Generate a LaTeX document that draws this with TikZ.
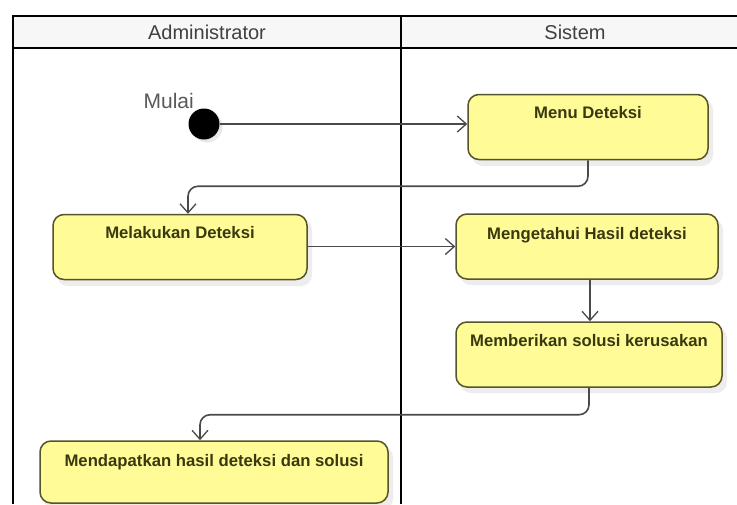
\documentclass[tikz,border=0pt]{standalone}
\usepackage{fontspec}
\setmainfont{Liberation Sans}
\usetikzlibrary{arrows.meta}

\definecolor{actfill}{HTML}{FFFC98}
\definecolor{actline}{HTML}{55532A}
\definecolor{acttext}{HTML}{3A380E}
\definecolor{connline}{HTML}{4A4A4A}
\definecolor{headfill}{HTML}{F7F7F7}

\tikzset{
  lane/.style={line width=2.8pt, black},
  lanetitle/.style={font=\fontsize{20}{22}\selectfont, text=black!75, anchor=base},
  activity/.style={draw=actline, line width=1.5pt, fill=actfill, rounded corners=11pt,
    inner sep=0pt, minimum width=#1, minimum height=65pt},
  acttitle/.style={font=\bfseries\fontsize{16.7}{19}\selectfont, text=acttext, anchor=base, inner sep=0pt},
  shade/.style={fill=black!7, draw=none, rounded corners=11pt},
  conn/.style={draw=connline, line width=1.6pt, -{Straight Barb[length=9pt,width=16pt,line width=1.3pt]}},
}

\begin{document}
\begin{tikzpicture}[x=1pt,y=-1pt]
  \useasboundingbox (0,0) rectangle (737,504);
  \fill[white] (0,0) rectangle (737,504);

  % swimlane frame and header
  \fill[headfill] (13,16) rectangle (737,48);
  \draw[lane] (737,16) -- (13,16) -- (13,504);
  \draw[lane] (13,48) -- (737,48);
  \draw[lane] (401,16) -- (401,504);
  \node[lanetitle] (laneA) at (207,39) {Administrator};
  \node[lanetitle] (laneB) at (575,39) {Sistem};

  % shadows under the activities
  \fill[shade] (472,99) rectangle (713,166);
  \fill[shade] (57,219) rectangle (312,286);
  \fill[shade] (460,219) rectangle (723,285);
  \fill[shade] (460,327) rectangle (727,393);
  \fill[shade] (44,446) rectangle (393,510);
  \fill[black!9] (207,127) circle (15.5pt);

  % start node
  \node[circle, fill=black, inner sep=0pt, minimum size=31pt] (start) at (204,124) {};
  \node[font=\fontsize{21}{23}\selectfont, text=black!65, anchor=base east, inner sep=0pt] (startlbl) at (194,108) {Mulai};

  % activities
  \node[activity=240pt] (menu) at (588,127) {};
  \node[acttitle] (menuT) at ([yshift=-25pt]menu.north) {Menu Deteksi};

  \node[activity=254pt] (deteksi) at (180,247) {};
  \node[acttitle] (deteksiT) at ([yshift=-25pt]deteksi.north) {Melakukan Deteksi};

  \node[activity=262pt] (hasil) at (587,246.5) {};
  \node[acttitle] (hasilT) at ([yshift=-26pt]hasil.north) {Mengetahui Hasil deteksi};

  \node[activity=266pt] (solusi) at (589,354.5) {};
  \node[acttitle] (solusiT) at ([yshift=-25pt]solusi.north) {Memberikan solusi kerusakan};

  \node[activity=348pt, minimum height=62pt] (akhir) at (214,472) {};
  \node[acttitle] (akhirT) at ([yshift=-26pt]akhir.north) {Mendapatkan hasil deteksi dan solusi};

  % control flow
  \draw[conn] (start) -- (start -| menu.west);
  \draw[conn, rounded corners=10pt] (menu.south) -- ++(0,26) -| ([xshift=8pt]deteksi.north);
  \draw[conn] (deteksi.east |- hasil.west) -- (hasil.west);
  \draw[conn] ([xshift=3pt]hasil.south) -- ([xshift=3pt]hasil.south |- solusi.north);
  \draw[conn, rounded corners=10pt] (solusi.south) -- ++(0,27) -| ([xshift=-14pt]akhir.north);
\end{tikzpicture}
\end{document}
